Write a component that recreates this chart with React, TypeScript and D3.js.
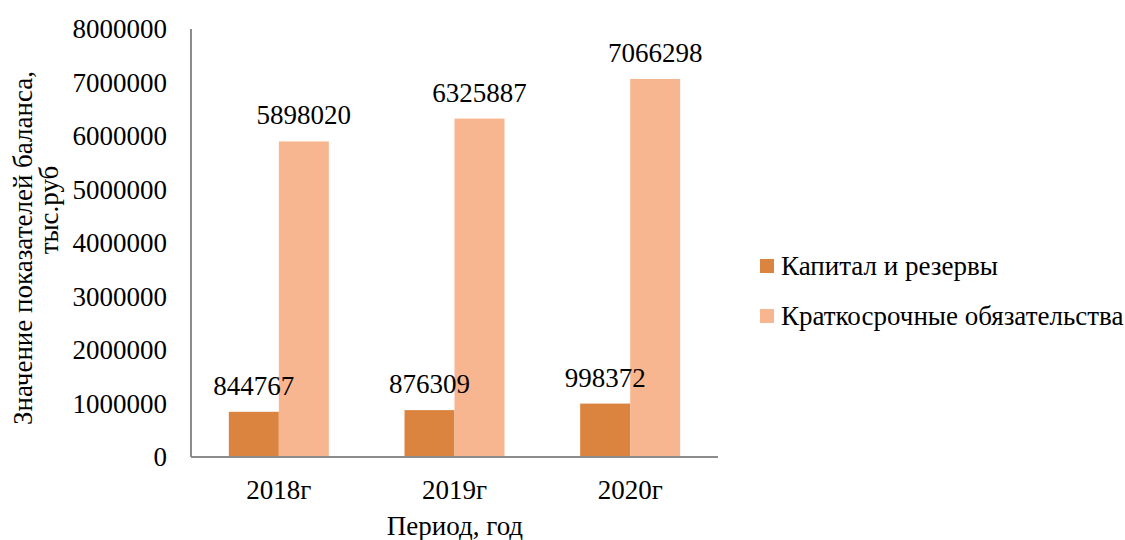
import React from "react";
import * as d3 from "d3";

const categories = ["2018г", "2019г", "2020г"];
const seriesNames = ["Капитал и резервы", "Краткосрочные обязательства"];
const capital = [844767, 876309, 998372];
const shortTerm = [5898020, 6325887, 7066298];
const yTicks = [0, 1000000, 2000000, 3000000, 4000000, 5000000, 6000000, 7000000, 8000000];

const colors = ["#DB8440", "#F8B690"];
const font = "'Times New Roman', Times, 'Liberation Serif', 'DejaVu Serif', serif";

export default function App() {
  const width = 1125;
  const height = 540;
  const left = 191;
  const right = 718;
  const top = 29;
  const bottom = 457;

  const x = d3.scaleBand<string>().domain(categories).range([left, right]).paddingInner(0).paddingOuter(0);
  const y = d3.scaleLinear().domain([0, 8000000]).range([bottom, top]);
  const barW = 50;
  const series = [capital, shortTerm];
  const center = (c: string) => (x(c) as number) + x.bandwidth() / 2;
  const txt = { fontFamily: font, fontSize: 27, fill: "#000" } as const;

  return (
    <svg width={width} height={height} style={{ position: "absolute", left: 0, top: 0, background: "#fff" }}>
      {/* Y tick labels */}
      {yTicks.map((t) => (
        <text key={t} x={167} y={y(t)} dy="0.35em" textAnchor="end" style={txt}>
          {t}
        </text>
      ))}

      {/* Bars */}
      {categories.map((c, i) =>
        series.map((s, k) => {
          const bx = center(c) - barW + k * barW;
          return (
            <rect key={`${c}-${k}`} x={bx} y={y(s[i])} width={barW} height={bottom - y(s[i])} fill={colors[k]} />
          );
        })
      )}

      {/* Value labels and category labels */}
      {categories.map((c, i) => (
        <g key={c}>
          {series.map((s, k) => {
            const bx = center(c) - barW + k * barW;
            return (
              <text key={k} x={bx + barW / 2} y={y(s[i]) - 17} textAnchor="middle" style={txt}>
                {s[i]}
              </text>
            );
          })}
          <text x={center(c)} y={499} textAnchor="middle" style={txt}>
            {c}
          </text>
        </g>
      ))}

      {/* Axes */}
      <line x1={left} x2={left} y1={top} y2={bottom} stroke="#8c8c8c" strokeWidth={2} />
      <line x1={left} x2={right} y1={bottom} y2={bottom} stroke="#8c8c8c" strokeWidth={2} />

      {/* Axis titles */}
      <text x={455} y={535} textAnchor="middle" style={txt}>
        Период, год
      </text>
      <text transform="translate(32,248) rotate(-90)" textAnchor="middle" style={txt}>
        Значение показателей баланса,
      </text>
      <text transform="translate(58,210) rotate(-90)" textAnchor="middle" style={txt}>
        тыс.руб
      </text>

      {/* Legend */}
      {seriesNames.map((n, k) => (
        <g key={n} transform={`translate(760, ${259 + k * 50})`}>
          <rect x={0} y={0} width={14} height={14} fill={colors[k]} />
          <text x={21} y={16} style={txt}>
            {n}
          </text>
        </g>
      ))}
    </svg>
  );
}
